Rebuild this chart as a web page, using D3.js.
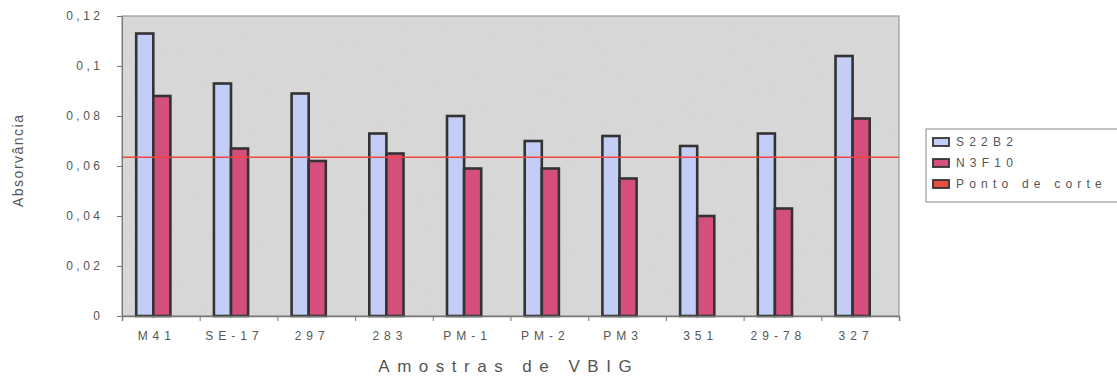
<!DOCTYPE html>
<html lang="en">
<head>
  <meta charset="UTF-8">
  <title>Absorvância - Amostras de VBIG</title>
  <style>
    body { margin: 0; background: #fff; overflow: hidden; }
  </style>
</head>
<body>
  <div class="layout"></div>
  <script src="https://d3js.org/d3.v7.min.js"></script>
  <script>
    const SVGWIDTH = 1117;
    const SVGHEIGHT = 378;
    const FONT = "'Liberation Sans', Arial, sans-serif";
    const TEXT_COLOR = '#555';
    const margin = {top:16, right:218, bottom:62, left:122};
    const innerWidth = SVGWIDTH - margin.left - margin.right;
    const innerHeight = SVGHEIGHT - margin.top - margin.bottom;

    // data
    const categories = ['M41','SE-17','297','283','PM-1','PM-2','PM3','351','29-78','327'];
    const s22b2 = [0.113,0.093,0.089,0.073,0.080,0.070,0.072,0.068,0.073,0.104];
    const n3f10 = [0.088,0.067,0.062,0.065,0.059,0.059,0.055,0.040,0.043,0.079];
    const pontoCorte = 0.0635;
    const seriesNames = ['S22B2','N3F10','Ponto de corte'];
    const seriesColors = ['#c4cdf6','#d44f7c','#e8513f'];
    const yTicks = [0,0.02,0.04,0.06,0.08,0.1,0.12];

    const yScale = d3.scaleLinear().domain([0,0.12]).range([innerHeight,0]);
    const xScale = d3.scaleBand().domain(categories).range([0,innerWidth]).paddingInner(0.34).paddingOuter(0.17);
    // third slot belongs to the cut-off series, which is drawn as a line
    const xSub = d3.scaleBand().domain([0,1,2]).range([0,xScale.bandwidth()]);

    const svg = d3.select('.layout').append('svg')
      .attr('width',SVGWIDTH).attr('height',SVGHEIGHT);

    // grainy grey background for plot area
    const defs = svg.append('defs');
    const filter = defs.append('filter').attr('id','grain')
      .attr('x',0).attr('y',0).attr('width',1).attr('height',1);
    filter.append('feTurbulence').attr('type','fractalNoise').attr('baseFrequency',0.9).attr('numOctaves',1).attr('result','n');
    filter.append('feColorMatrix').attr('type','matrix')
      .attr('values','0 0 0 0 0.55  0 0 0 0 0.55  0 0 0 0 0.55  0 0 0 0.3 0');

    const main = svg.append('g').attr('transform',`translate(${margin.left},${margin.top})`);

    main.append('rect').attr('width',innerWidth).attr('height',innerHeight).attr('fill','#d9d9d9');
    main.append('rect').attr('width',innerWidth).attr('height',innerHeight).attr('filter','url(#grain)').attr('opacity',0.5);
    main.append('rect').attr('width',innerWidth).attr('height',innerHeight)
      .attr('fill','none').attr('stroke','#9a9a9a').attr('stroke-width',1.2);

    // bars
    const groups = main.selectAll('g.grp').data(categories).enter().append('g')
      .attr('class','grp').attr('transform',d => `translate(${xScale(d)},0)`);
    [s22b2,n3f10].forEach((vals,si) => {
      groups.append('rect')
        .attr('x',xSub(si) + 1)
        .attr('width',xSub.bandwidth())
        .attr('y',(d,i) => yScale(vals[i]))
        .attr('height',(d,i) => innerHeight - yScale(vals[i]))
        .attr('fill',seriesColors[si])
        .attr('stroke','#333')
        .attr('stroke-width',2.6);
    });

    // cut-off line
    main.append('line')
      .attr('x1',0).attr('x2',innerWidth)
      .attr('y1',yScale(pontoCorte)).attr('y2',yScale(pontoCorte))
      .attr('stroke','#f0473a').attr('stroke-width',1.5);

    // y axis
    const yAxis = d3.axisLeft(yScale).tickValues(yTicks).tickSize(5).tickPadding(17)
      .tickFormat(d => d === 0 ? '0' : String(d).replace('.', ','));
    const yG = main.append('g').call(yAxis);
    yG.select('.domain').attr('stroke','#777');
    yG.selectAll('.tick line').attr('stroke','#777');
    yG.selectAll('text').attr('font-size',12).attr('fill',TEXT_COLOR).attr('font-family',FONT)
      .call(spread,3.5);

    // x axis: tick marks on category boundaries, labels from a band axis
    const tickScale = d3.scaleLinear().domain([0,categories.length]).range([0,innerWidth]);
    const xTickG = main.append('g').attr('transform',`translate(0,${innerHeight})`)
      .call(d3.axisBottom(tickScale).ticks(categories.length).tickSize(5).tickFormat(''));
    xTickG.select('.domain').attr('stroke','#777').attr('stroke-width',1.5);
    xTickG.selectAll('.tick line').attr('stroke','#777');

    const xLabelG = main.append('g').attr('transform',`translate(0,${innerHeight})`)
      .call(d3.axisBottom(xScale).tickSize(0).tickPadding(15));
    xLabelG.select('.domain').remove();
    xLabelG.selectAll('text')
      .attr('x',2 - xSub.bandwidth() / 2)
      .attr('font-family',FONT).attr('font-size',12).attr('fill',TEXT_COLOR)
      .call(spread,5);

    // axis titles
    svg.append('text')
      .attr('transform','translate(23,161) rotate(-90)')
      .attr('text-anchor','middle').attr('font-family',FONT).attr('font-size',14)
      .attr('fill',TEXT_COLOR)
      .text('Absorvância')
      .call(spread,1.5);
    svg.append('text')
      .attr('x',505).attr('y',372).attr('text-anchor','middle').attr('font-family',FONT)
      .attr('font-size',17).attr('fill',TEXT_COLOR)
      .text('Amostras de VBIG')
      .call(spread,7.5);

    // legend (box runs off the right edge as in the reference)
    const leg = svg.append('g').attr('transform','translate(926,129)');
    leg.append('rect').attr('width',200).attr('height',73).attr('fill','#fff').attr('stroke','#888').attr('stroke-width',1);
    seriesNames.forEach((name,i) => {
      const y = 13 + i * 21;
      leg.append('rect').attr('x',7).attr('y',y - 4).attr('width',16).attr('height',8)
        .attr('fill',seriesColors[i]).attr('stroke','#333').attr('stroke-width',1.8);
      leg.append('text').attr('x',30).attr('y',y).attr('dy','0.36em').attr('font-family',FONT).attr('font-size',12)
        .attr('fill',TEXT_COLOR).text(name)
        .call(spread,5.2);
    });

    // widen text by a fixed gap between characters (scanned Excel look)
    function spread (sel, gap) {
      sel.each(function () {
        const n = this.textContent.length;
        if (n < 2) return;
        const w = this.getComputedTextLength();
        d3.select(this).attr('textLength', w + gap * (n - 1)).attr('lengthAdjust','spacing');
      });
    }
  </script>
</body>
</html>
